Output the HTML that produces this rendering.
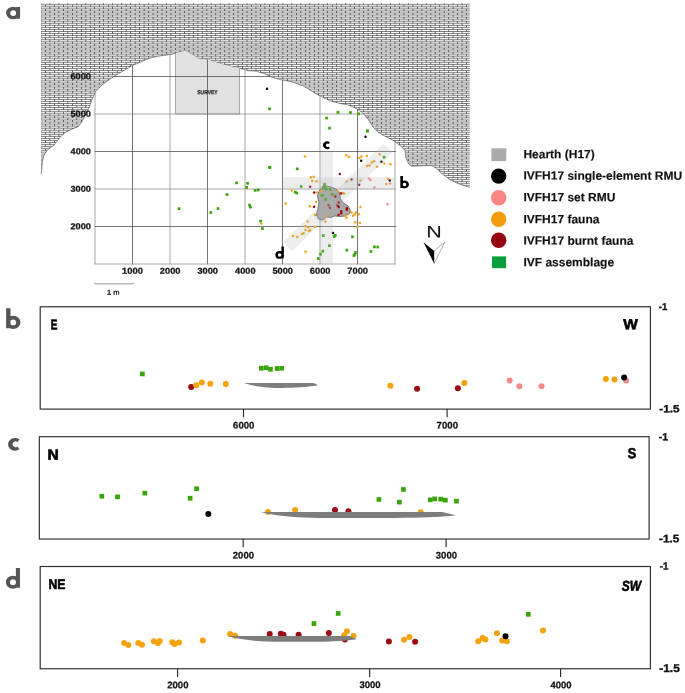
<!DOCTYPE html>
<html><head><meta charset="utf-8"><title>figure</title>
<style>
html,body{margin:0;padding:0;background:#fff;}
svg{display:block;will-change:transform;}
text{font-family:"Liberation Sans",sans-serif;}
.b{font-weight:bold;}
</style></head><body>
<svg width="685" height="693" viewBox="0 0 685 693">
<defs>
<clipPath id="cave"><path id="cavep" d="M41.1 174.3L42.5 161.2L44.1 155.2L47.2 150.1L54.2 145.0L60.3 137.0L65.4 132.5L72.4 128.9L78.5 126.5L82.5 120.8L88.6 108.7L91.6 100.6L95.7 91.5L102.7 84.4L110.8 78.4L120.9 72.3L133.0 65.3L140.0 62.3L148.8 58.5L157.5 56.3L170.7 54.5L179.4 52.3L185.5 50.6L190.4 53.6L199.1 58.7L207.9 59.6L216.6 62.4L227.6 65.5L238.5 67.7L247.3 70.5L256.0 71.2L264.8 73.8L271.4 77.1L280.1 79.6L291.7 81.8L303.4 86.1L318.0 94.9L329.6 100.7L340.0 103.5L348.2 104.9L356.3 108.6L362.5 112.7L368.6 119.9L373.7 128.0L377.8 132.1L385.0 136.2L394.2 140.9L401.3 146.4L405.0 150.5L405.8 157.7L408.5 163.8L411.5 166.2L421.7 165.8L431.0 165.4L436.0 167.9L442.2 174.0L450.4 180.1L460.6 184.6L469.8 187.3L469.8 300L41 300Z"/></clipPath>
</defs>
<rect width="685" height="693" fill="#fff"/>
<clipPath id="hc"><path d="M41 3.3H469.8V187.3L460.6 184.6L450.4 180.1L442.2 174.0L436.0 167.9L431.0 165.4L421.7 165.8L411.5 166.2L408.5 163.8L405.8 157.7L405.0 150.5L401.3 146.4L394.2 140.9L385.0 136.2L377.8 132.1L373.7 128.0L368.6 119.9L362.5 112.7L356.3 108.6L348.2 104.9L340.0 103.5L329.6 100.7L318.0 94.9L303.4 86.1L291.7 81.8L280.1 79.6L271.4 77.1L264.8 73.8L256.0 71.2L247.3 70.5L238.5 67.7L227.6 65.5L216.6 62.4L207.9 59.6L199.1 58.7L190.4 53.6L185.5 50.6L179.4 52.3L170.7 54.5L157.5 56.3L148.8 58.5L140.0 62.3L133.0 65.3L120.9 72.3L110.8 78.4L102.7 84.4L95.7 91.5L91.6 100.6L88.6 108.7L82.5 120.8L78.5 126.5L72.4 128.9L65.4 132.5L60.3 137.0L54.2 145.0L47.2 150.1L44.1 155.2L42.5 161.2L41.1 174.3Z"/></clipPath>
<g clip-path="url(#hc)" fill="none" stroke="#333">
<path d="M40 2.71H471M40 4.77H471M40 6.83H471M40 8.88H471M40 10.94H471M40 13.00H471M40 15.05H471M40 17.11H471M40 19.17H471M40 21.23H471M40 23.28H471M40 25.34H471M40 27.40H471M40 29.45H471M40 31.51H471M40 33.57H471M40 35.62H471M40 37.68H471M40 39.74H471M40 41.80H471M40 43.85H471M40 45.91H471M40 47.97H471M40 50.02H471M40 52.08H471M40 54.14H471M40 56.19H471M40 58.25H471M40 60.31H471M40 62.37H471M40 64.42H471M40 66.48H471M40 68.54H471M40 70.59H471M40 72.65H471M40 74.71H471M40 76.77H471M40 78.82H471M40 80.88H471M40 82.94H471M40 84.99H471M40 87.05H471M40 89.11H471M40 91.16H471M40 93.22H471M40 95.28H471M40 97.33H471M40 99.39H471M40 101.45H471M40 103.51H471M40 105.56H471M40 107.62H471M40 109.68H471M40 111.73H471M40 113.79H471M40 115.85H471M40 117.90H471M40 119.96H471M40 122.02H471M40 124.08H471M40 126.13H471M40 128.19H471M40 130.25H471M40 132.30H471M40 134.36H471M40 136.42H471M40 138.47H471M40 140.53H471M40 142.59H471M40 144.65H471M40 146.70H471M40 148.76H471M40 150.82H471M40 152.87H471M40 154.93H471M40 156.99H471M40 159.05H471M40 161.10H471M40 163.16H471M40 165.22H471M40 167.27H471M40 169.33H471M40 171.39H471M40 173.44H471M40 175.50H471M40 177.56H471M40 179.62H471M40 181.67H471M40 183.73H471M40 185.79H471M40 187.84H471" stroke-width="0.62"/>
<path d="M36.23 5.80H471M36.23 9.91H471M36.23 14.03H471M36.23 18.14H471M36.23 22.25H471M36.23 26.37H471M36.23 30.48H471M36.23 34.60H471M36.23 38.71H471M36.23 42.82H471M36.23 46.94H471M36.23 51.05H471M36.23 55.17H471M36.23 59.28H471M36.23 63.39H471M36.23 67.51H471M36.23 71.62H471M36.23 75.74H471M36.23 79.85H471M36.23 83.96H471M36.23 88.08H471M36.23 92.19H471M36.23 96.31H471M36.23 100.42H471M36.23 104.53H471M36.23 108.65H471M36.23 112.76H471M36.23 116.88H471M36.23 120.99H471M36.23 125.10H471M36.23 129.22H471M36.23 133.33H471M36.23 137.45H471M36.23 141.56H471M36.23 145.67H471M36.23 149.79H471M36.23 153.90H471M36.23 158.02H471M36.23 162.13H471M36.23 166.24H471M36.23 170.36H471M36.23 174.47H471M36.23 178.59H471M36.23 182.70H471M36.23 186.81H471" stroke-width="2.057" stroke-dasharray="0.70 8.26"/>
<path d="M40.59 3.74H471M40.59 7.86H471M40.59 11.97H471M40.59 16.08H471M40.59 20.20H471M40.59 24.31H471M40.59 28.43H471M40.59 32.54H471M40.59 36.65H471M40.59 40.77H471M40.59 44.88H471M40.59 49.00H471M40.59 53.11H471M40.59 57.22H471M40.59 61.34H471M40.59 65.45H471M40.59 69.57H471M40.59 73.68H471M40.59 77.79H471M40.59 81.91H471M40.59 86.02H471M40.59 90.14H471M40.59 94.25H471M40.59 98.36H471M40.59 102.48H471M40.59 106.59H471M40.59 110.71H471M40.59 114.82H471M40.59 118.93H471M40.59 123.05H471M40.59 127.16H471M40.59 131.28H471M40.59 135.39H471M40.59 139.50H471M40.59 143.62H471M40.59 147.73H471M40.59 151.85H471M40.59 155.96H471M40.59 160.07H471M40.59 164.19H471M40.59 168.30H471M40.59 172.42H471M40.59 176.53H471M40.59 180.64H471M40.59 184.76H471M40.59 188.87H471" stroke-width="2.057" stroke-dasharray="0.70 8.26"/>
</g>
<path d="M41.1 174.3L42.5 161.2L44.1 155.2L47.2 150.1L54.2 145.0L60.3 137.0L65.4 132.5L72.4 128.9L78.5 126.5L82.5 120.8L88.6 108.7L91.6 100.6L95.7 91.5L102.7 84.4L110.8 78.4L120.9 72.3L133.0 65.3L140.0 62.3L148.8 58.5L157.5 56.3L170.7 54.5L179.4 52.3L185.5 50.6L190.4 53.6L199.1 58.7L207.9 59.6L216.6 62.4L227.6 65.5L238.5 67.7L247.3 70.5L256.0 71.2L264.8 73.8L271.4 77.1L280.1 79.6L291.7 81.8L303.4 86.1L318.0 94.9L329.6 100.7L340.0 103.5L348.2 104.9L356.3 108.6L362.5 112.7L368.6 119.9L373.7 128.0L377.8 132.1L385.0 136.2L394.2 140.9L401.3 146.4L405.0 150.5L405.8 157.7L408.5 163.8L411.5 166.2L421.7 165.8L431.0 165.4L436.0 167.9L442.2 174.0L450.4 180.1L460.6 184.6L469.8 187.3" fill="none" stroke="#333" stroke-width="0.5"/>
<g clip-path="url(#cave)">
<rect x="175.5" y="40" width="64.1" height="74.0" fill="#e1e1e1" stroke="#999" stroke-width="0.8"/>
<line x1="95.00" x2="95.00" y1="40" y2="264.3" stroke="#828282" stroke-width="0.7"/>
<line x1="132.50" x2="132.50" y1="40" y2="264.3" stroke="#3c3c3c" stroke-width="0.7"/>
<line x1="170.00" x2="170.00" y1="40" y2="264.3" stroke="#828282" stroke-width="0.7"/>
<line x1="207.50" x2="207.50" y1="40" y2="264.3" stroke="#3c3c3c" stroke-width="0.7"/>
<line x1="245.00" x2="245.00" y1="40" y2="264.3" stroke="#828282" stroke-width="0.7"/>
<line x1="282.50" x2="282.50" y1="40" y2="264.3" stroke="#3c3c3c" stroke-width="0.7"/>
<line x1="320.00" x2="320.00" y1="40" y2="264.3" stroke="#828282" stroke-width="0.7"/>
<line x1="357.50" x2="357.50" y1="40" y2="264.3" stroke="#3c3c3c" stroke-width="0.7"/>
<line x1="395.00" x2="395.00" y1="40" y2="264.3" stroke="#828282" stroke-width="0.7"/>
<line x1="94.7" x2="395.8" y1="264.00" y2="264.00" stroke="#828282" stroke-width="0.7"/>
<line x1="94.7" x2="395.8" y1="226.50" y2="226.50" stroke="#3c3c3c" stroke-width="0.7"/>
<line x1="94.7" x2="395.8" y1="189.00" y2="189.00" stroke="#828282" stroke-width="0.7"/>
<line x1="94.7" x2="395.8" y1="151.50" y2="151.50" stroke="#3c3c3c" stroke-width="0.7"/>
<line x1="94.7" x2="395.8" y1="114.00" y2="114.00" stroke="#828282" stroke-width="0.7"/>
<line x1="94.7" x2="395.8" y1="76.50" y2="76.50" stroke="#3c3c3c" stroke-width="0.7"/>
</g>
<path d="M323.5 185.3L330.7 186.9L335.8 188.9L339.3 192.5L340.4 198.6L342.9 202.7L348.0 205.8L350.6 210.9L349.0 213.9L345.0 216.0L339.9 216.5L334.7 216.0L330.7 217.5L326.6 217.0L323.0 220.1L318.4 219.0L316.4 215.0L317.9 208.8L318.9 202.7L317.4 195.5L318.9 191.5L321.5 187.9Z" fill="#a8a8a8" stroke="#606060" stroke-width="0.8" stroke-linejoin="round"/>
<rect x="268.6" y="166.2" width="2.7" height="2.7" fill="#3aa50a"/><rect x="295.9" y="167.5" width="2.7" height="2.7" fill="#3aa50a"/><rect x="299.8" y="185.1" width="2.7" height="2.7" fill="#3aa50a"/><rect x="293.9" y="190.7" width="2.7" height="2.7" fill="#3aa50a"/><rect x="295.4" y="191.7" width="2.7" height="2.7" fill="#3aa50a"/><rect x="323.3" y="182.8" width="2.7" height="2.7" fill="#3aa50a"/><rect x="322.2" y="186.8" width="2.7" height="2.7" fill="#3aa50a"/><rect x="324.8" y="187.5" width="2.7" height="2.7" fill="#3aa50a"/><rect x="323.6" y="185.2" width="2.7" height="2.7" fill="#3aa50a"/><rect x="328.9" y="188.0" width="2.7" height="2.7" fill="#3aa50a"/><rect x="320.8" y="194.1" width="2.7" height="2.7" fill="#3aa50a"/><rect x="330.8" y="193.1" width="2.7" height="2.7" fill="#3aa50a"/><rect x="324.3" y="198.2" width="2.7" height="2.7" fill="#3aa50a"/><rect x="366.0" y="129.7" width="2.7" height="2.7" fill="#3aa50a"/><rect x="382.8" y="155.8" width="2.7" height="2.7" fill="#3aa50a"/><rect x="321.9" y="234.2" width="2.7" height="2.7" fill="#3aa50a"/><rect x="334.0" y="234.0" width="2.7" height="2.7" fill="#3aa50a"/><rect x="332.8" y="235.2" width="2.7" height="2.7" fill="#3aa50a"/><rect x="328.1" y="244.3" width="2.7" height="2.7" fill="#3aa50a"/><rect x="321.4" y="249.8" width="2.7" height="2.7" fill="#3aa50a"/><rect x="319.2" y="252.8" width="2.7" height="2.7" fill="#3aa50a"/><rect x="316.9" y="257.2" width="2.7" height="2.7" fill="#3aa50a"/><rect x="351.1" y="235.5" width="2.7" height="2.7" fill="#3aa50a"/><rect x="345.5" y="248.8" width="2.7" height="2.7" fill="#3aa50a"/><rect x="354.1" y="251.1" width="2.7" height="2.7" fill="#3aa50a"/><rect x="353.6" y="252.8" width="2.7" height="2.7" fill="#3aa50a"/><rect x="352.6" y="254.2" width="2.7" height="2.7" fill="#3aa50a"/><rect x="373.1" y="245.5" width="2.7" height="2.7" fill="#3aa50a"/><rect x="376.4" y="245.7" width="2.7" height="2.7" fill="#3aa50a"/><rect x="369.5" y="250.1" width="2.7" height="2.7" fill="#3aa50a"/><rect x="268.1" y="166.0" width="2.7" height="2.7" fill="#3aa50a"/><rect x="235.2" y="181.5" width="2.7" height="2.7" fill="#3aa50a"/><rect x="246.2" y="182.0" width="2.7" height="2.7" fill="#3aa50a"/><rect x="245.3" y="186.1" width="2.7" height="2.7" fill="#3aa50a"/><rect x="253.8" y="189.0" width="2.7" height="2.7" fill="#3aa50a"/><rect x="256.9" y="188.6" width="2.7" height="2.7" fill="#3aa50a"/><rect x="225.7" y="193.2" width="2.7" height="2.7" fill="#3aa50a"/><rect x="248.2" y="203.7" width="2.7" height="2.7" fill="#3aa50a"/><rect x="249.1" y="205.8" width="2.7" height="2.7" fill="#3aa50a"/><rect x="216.7" y="207.2" width="2.7" height="2.7" fill="#3aa50a"/><rect x="209.5" y="211.2" width="2.7" height="2.7" fill="#3aa50a"/><rect x="177.7" y="207.3" width="2.7" height="2.7" fill="#3aa50a"/><rect x="259.3" y="219.8" width="2.7" height="2.7" fill="#3aa50a"/><rect x="261.1" y="227.2" width="2.7" height="2.7" fill="#3aa50a"/><rect x="336.6" y="111.0" width="2.7" height="2.7" fill="#3aa50a"/><rect x="349.1" y="111.2" width="2.7" height="2.7" fill="#3aa50a"/><rect x="357.3" y="112.5" width="2.7" height="2.7" fill="#3aa50a"/><rect x="325.2" y="116.7" width="2.7" height="2.7" fill="#3aa50a"/><rect x="328.2" y="126.8" width="2.7" height="2.7" fill="#3aa50a"/><rect x="366.2" y="129.6" width="2.7" height="2.7" fill="#3aa50a"/><rect x="268.2" y="107.5" width="2.7" height="2.7" fill="#3aa50a"/>
<circle cx="304.9" cy="156.4" r="1.25" fill="#f5a20f"/><circle cx="310.9" cy="177.3" r="1.25" fill="#f5a20f"/><circle cx="313.7" cy="176.8" r="1.25" fill="#f5a20f"/><circle cx="312.1" cy="181.1" r="1.25" fill="#f5a20f"/><circle cx="316.5" cy="181.3" r="1.25" fill="#f5a20f"/><circle cx="291.8" cy="190.6" r="1.25" fill="#f5a20f"/><circle cx="316.5" cy="192.5" r="1.25" fill="#f5a20f"/><circle cx="320.8" cy="191.3" r="1.25" fill="#f5a20f"/><circle cx="338.0" cy="191.6" r="1.25" fill="#f5a20f"/><circle cx="346.3" cy="155.2" r="1.25" fill="#f5a20f"/><circle cx="349.0" cy="157.1" r="1.25" fill="#f5a20f"/><circle cx="359.4" cy="158.1" r="1.25" fill="#f5a20f"/><circle cx="361.5" cy="156.6" r="1.25" fill="#f5a20f"/><circle cx="366.9" cy="155.9" r="1.25" fill="#f5a20f"/><circle cx="379.6" cy="154.2" r="1.25" fill="#f5a20f"/><circle cx="384.2" cy="163.4" r="1.25" fill="#f5a20f"/><circle cx="390.4" cy="164.2" r="1.25" fill="#f5a20f"/><circle cx="374.0" cy="161.2" r="1.25" fill="#f5a20f"/><circle cx="371.7" cy="162.4" r="1.25" fill="#f5a20f"/><circle cx="369.6" cy="165.6" r="1.25" fill="#f5a20f"/><circle cx="367.1" cy="166.0" r="1.25" fill="#f5a20f"/><circle cx="376.8" cy="166.8" r="1.25" fill="#f5a20f"/><circle cx="346.8" cy="181.6" r="1.25" fill="#f5a20f"/><circle cx="360.4" cy="180.6" r="1.25" fill="#f5a20f"/><circle cx="387.8" cy="178.8" r="1.25" fill="#f5a20f"/><circle cx="386.3" cy="183.9" r="1.25" fill="#f5a20f"/><circle cx="344.1" cy="193.4" r="1.25" fill="#f5a20f"/><circle cx="285.6" cy="203.4" r="1.25" fill="#f5a20f"/><circle cx="316.0" cy="202.0" r="1.25" fill="#f5a20f"/><circle cx="309.9" cy="206.3" r="1.25" fill="#f5a20f"/><circle cx="315.0" cy="215.1" r="1.25" fill="#f5a20f"/><circle cx="326.2" cy="216.0" r="1.25" fill="#f5a20f"/><circle cx="325.4" cy="221.5" r="1.25" fill="#f5a20f"/><circle cx="307.5" cy="221.5" r="1.25" fill="#f5a20f"/><circle cx="305.6" cy="226.3" r="1.25" fill="#f5a20f"/><circle cx="308.1" cy="227.3" r="1.25" fill="#f5a20f"/><circle cx="315.0" cy="227.1" r="1.25" fill="#f5a20f"/><circle cx="305.5" cy="230.1" r="1.25" fill="#f5a20f"/><circle cx="310.2" cy="229.9" r="1.25" fill="#f5a20f"/><circle cx="309.0" cy="231.0" r="1.25" fill="#f5a20f"/><circle cx="303.7" cy="233.2" r="1.25" fill="#f5a20f"/><circle cx="302.0" cy="234.0" r="1.25" fill="#f5a20f"/><circle cx="293.0" cy="236.1" r="1.25" fill="#f5a20f"/><circle cx="297.3" cy="237.0" r="1.25" fill="#f5a20f"/><circle cx="305.6" cy="251.8" r="1.25" fill="#f5a20f"/><circle cx="360.4" cy="206.9" r="1.25" fill="#f5a20f"/><circle cx="351.5" cy="212.5" r="1.25" fill="#f5a20f"/><circle cx="355.8" cy="212.5" r="1.25" fill="#f5a20f"/><circle cx="354.6" cy="214.3" r="1.25" fill="#f5a20f"/><circle cx="353.0" cy="215.8" r="1.25" fill="#f5a20f"/><circle cx="358.9" cy="214.3" r="1.25" fill="#f5a20f"/><circle cx="345.6" cy="215.8" r="1.25" fill="#f5a20f"/><circle cx="346.4" cy="217.7" r="1.25" fill="#f5a20f"/><circle cx="355.1" cy="222.3" r="1.25" fill="#f5a20f"/><circle cx="359.9" cy="223.0" r="1.25" fill="#f5a20f"/><circle cx="357.4" cy="226.8" r="1.25" fill="#f5a20f"/><circle cx="261.4" cy="223.4" r="1.25" fill="#f5a20f"/><circle cx="342.8" cy="193.2" r="1.25" fill="#f5a20f"/>
<circle cx="310.1" cy="186.8" r="1.25" fill="#9c0a14"/><circle cx="314.1" cy="192.6" r="1.25" fill="#9c0a14"/><circle cx="339.8" cy="174.1" r="1.25" fill="#9c0a14"/><circle cx="335.4" cy="196.4" r="1.25" fill="#9c0a14"/><circle cx="351.5" cy="179.6" r="1.25" fill="#9c0a14"/><circle cx="359.2" cy="184.7" r="1.25" fill="#9c0a14"/><circle cx="340.8" cy="193.4" r="1.25" fill="#9c0a14"/><circle cx="314.1" cy="206.8" r="1.25" fill="#9c0a14"/><circle cx="328.5" cy="205.3" r="1.25" fill="#9c0a14"/><circle cx="330.0" cy="208.0" r="1.25" fill="#9c0a14"/><circle cx="337.4" cy="205.6" r="1.25" fill="#9c0a14"/><circle cx="338.7" cy="207.0" r="1.25" fill="#9c0a14"/><circle cx="338.5" cy="215.1" r="1.25" fill="#9c0a14"/><circle cx="346.9" cy="208.2" r="1.25" fill="#9c0a14"/><circle cx="346.9" cy="209.7" r="1.25" fill="#9c0a14"/><circle cx="341.2" cy="211.2" r="1.25" fill="#9c0a14"/><circle cx="341.2" cy="213.3" r="1.25" fill="#9c0a14"/><circle cx="338.7" cy="202.5" r="1.25" fill="#9c0a14"/><circle cx="341.0" cy="193.5" r="1.25" fill="#9c0a14"/>
<circle cx="368.8" cy="178.5" r="1.25" fill="#f48a8a"/><circle cx="370.5" cy="180.1" r="1.25" fill="#f48a8a"/><circle cx="374.4" cy="187.5" r="1.25" fill="#f48a8a"/><circle cx="390.1" cy="183.4" r="1.25" fill="#f48a8a"/><circle cx="387.5" cy="204.3" r="1.25" fill="#f48a8a"/>
<circle cx="365.5" cy="136.8" r="1.25" fill="#000"/><circle cx="361.2" cy="160.7" r="1.25" fill="#000"/><circle cx="381.4" cy="161.7" r="1.25" fill="#000"/><circle cx="389.8" cy="180.6" r="1.25" fill="#000"/><circle cx="333.0" cy="233.0" r="1.25" fill="#000"/><circle cx="267.0" cy="88.7" r="1.25" fill="#000"/>
<g fill="#b0b0b0" fill-opacity="0.225">
<rect x="320.6" y="152" width="12.3" height="111.5"/>
<rect x="283" y="177.3" width="111.6" height="11.5"/>
<path d="M283.2 241.9L383.4 143.8L392.6 152.2L291.9 251.6Z"/>
</g>
<text transform="translate(197.25 94.24) rotate(0.05) scale(0.841 1)" font-size="5.94" class="b" stroke="#222" stroke-width="0.20" stroke-linejoin="miter" paint-order="stroke" fill="#222">SURVEY</text>
<text transform="translate(122.09 273.69) rotate(0.05) scale(1.091 1)" font-size="8.62" class="b" stroke="#111" stroke-width="0.25" stroke-linejoin="miter" paint-order="stroke" fill="#111">1000</text>
<text transform="translate(159.85 273.69) rotate(0.05) scale(1.077 1)" font-size="8.62" class="b" stroke="#111" stroke-width="0.25" stroke-linejoin="miter" paint-order="stroke" fill="#111">2000</text>
<text transform="translate(197.47 273.67) rotate(0.05) scale(1.075 1)" font-size="8.59" class="b" stroke="#111" stroke-width="0.25" stroke-linejoin="miter" paint-order="stroke" fill="#111">3000</text>
<text transform="translate(235.04 273.69) rotate(0.05) scale(1.068 1)" font-size="8.62" class="b" stroke="#111" stroke-width="0.25" stroke-linejoin="miter" paint-order="stroke" fill="#111">4000</text>
<text transform="translate(272.40 273.69) rotate(0.05) scale(1.075 1)" font-size="8.62" class="b" stroke="#111" stroke-width="0.25" stroke-linejoin="miter" paint-order="stroke" fill="#111">5000</text>
<text transform="translate(309.83 273.69) rotate(0.05) scale(1.079 1)" font-size="8.62" class="b" stroke="#111" stroke-width="0.25" stroke-linejoin="miter" paint-order="stroke" fill="#111">6000</text>
<text transform="translate(347.28 273.69) rotate(0.05) scale(1.081 1)" font-size="8.62" class="b" stroke="#111" stroke-width="0.25" stroke-linejoin="miter" paint-order="stroke" fill="#111">7000</text>
<text transform="translate(70.40 229.34) rotate(0.05) scale(1.072 1)" font-size="8.62" class="b" stroke="#111" stroke-width="0.25" stroke-linejoin="miter" paint-order="stroke" fill="#111">2000</text>
<text transform="translate(70.52 191.82) rotate(0.05) scale(1.070 1)" font-size="8.59" class="b" stroke="#111" stroke-width="0.25" stroke-linejoin="miter" paint-order="stroke" fill="#111">3000</text>
<text transform="translate(70.59 154.34) rotate(0.05) scale(1.062 1)" font-size="8.62" class="b" stroke="#111" stroke-width="0.25" stroke-linejoin="miter" paint-order="stroke" fill="#111">4000</text>
<text transform="translate(70.45 116.84) rotate(0.05) scale(1.070 1)" font-size="8.62" class="b" stroke="#111" stroke-width="0.25" stroke-linejoin="miter" paint-order="stroke" fill="#111">5000</text>
<text transform="translate(70.38 79.34) rotate(0.05) scale(1.073 1)" font-size="8.62" class="b" stroke="#111" stroke-width="0.25" stroke-linejoin="miter" paint-order="stroke" fill="#111">6000</text>
<path d="M94.4 282.6Q94.4 283.8 95.6 283.8H132.4Q133.6 283.8 133.6 282.6" fill="none" stroke="#b9b9b9" stroke-width="1.4"/>
<text transform="translate(106.99 294.60) rotate(0.05) scale(1.138 1)" font-size="6.62" stroke="#222" stroke-width="0.30" stroke-linejoin="miter" paint-order="stroke" fill="#222">1 m</text>
<path d="M329.85 142.18A4.20 3.85 0 1 0 329.85 148.26L328.83 146.49A1.77 1.74 0 1 1 328.83 143.95Z" fill="#000" fill-rule="nonzero"/>
<path d="M400.32 188.07h2.64v-12.06h-2.64ZM400.32 184.47a4.32 3.96 0 1 0 8.64 0a4.32 3.96 0 1 0 -8.64 0ZM402.78 184.53a1.77 1.74 0 1 1 3.54 0a1.77 1.74 0 1 1 -3.54 0Z" fill="#000" fill-rule="nonzero"/>
<path d="M281.40 258.25h2.46v-11.82h-2.46ZM275.38 254.89a4.26 3.90 0 1 0 8.52 0a4.26 3.90 0 1 0 -8.52 0ZM277.90 254.92a1.77 1.74 0 1 1 3.54 0a1.77 1.74 0 1 1 -3.54 0Z" fill="#000" fill-rule="nonzero"/>
<path d="M16.35 18.80h3.75v-11.80h-3.75ZM6.10 13.05a7.00 6.30 0 1 0 14.00 0a7.00 6.30 0 1 0 -14.00 0ZM10.25 13.10a2.95 2.95 0 1 1 5.90 0a2.95 2.95 0 1 1 -5.90 0Z" fill="#555" fill-rule="nonzero"/>
<path d="M6.10 328.30h4.40v-20.10h-4.40ZM6.10 322.30a7.20 6.60 0 1 0 14.40 0a7.20 6.60 0 1 0 -14.40 0ZM10.20 322.40a2.95 2.90 0 1 1 5.90 0a2.95 2.90 0 1 1 -5.90 0Z" fill="#555" fill-rule="nonzero"/>
<path d="M19.37 439.24A7.00 6.42 0 1 0 19.37 449.36L17.67 446.42A2.95 2.90 0 1 1 17.67 442.18Z" fill="#555" fill-rule="nonzero"/>
<path d="M15.87 587.74h4.10v-19.70h-4.10ZM5.84 582.14a7.10 6.50 0 1 0 14.20 0a7.10 6.50 0 1 0 -14.20 0ZM10.04 582.19a2.95 2.90 0 1 1 5.90 0a2.95 2.90 0 1 1 -5.90 0Z" fill="#555" fill-rule="nonzero"/>
<text transform="translate(426.32 237.50) rotate(0.05) scale(1.287 1)" font-size="16.73" fill="#111">N</text>
<path d="M423.5 242.3L434.1 250.9L434.1 263.5Z" fill="#000"/>
<path d="M444.7 242.3L434.1 250.9L434.1 263.5Z" fill="#fff" stroke="#333" stroke-width="0.4"/>
<rect x="491.4" y="148.3" width="14.9" height="12.8" fill="#aaa"/>
<circle cx="498.7" cy="176.1" r="7.7" fill="#000"/>
<circle cx="498.7" cy="197.7" r="7.7" fill="#fb8484"/>
<circle cx="498.7" cy="219.2" r="7.7" fill="#f39c0b"/>
<circle cx="498.7" cy="240.2" r="7.7" fill="#96000f"/>
<rect x="492" y="256.4" width="14.1" height="11.8" fill="#0b9e3c"/>
<text transform="translate(523.4 158.2) rotate(0.05)" font-size="12" class="b" fill="#111" stroke="#111" stroke-width="0.15">Hearth (H17)</text>
<text transform="translate(523.4 179.6) rotate(0.05)" font-size="12" class="b" fill="#111" stroke="#111" stroke-width="0.15">IVFH17 single-element RMU</text>
<text transform="translate(523.4 201.3) rotate(0.05)" font-size="12" class="b" fill="#111" stroke="#111" stroke-width="0.15">IVFH17 set RMU</text>
<text transform="translate(523.4 223.3) rotate(0.05)" font-size="12" class="b" fill="#111" stroke="#111" stroke-width="0.15">IVFH17 fauna</text>
<text transform="translate(523.4 244.6) rotate(0.05)" font-size="12" class="b" fill="#111" stroke="#111" stroke-width="0.15">IVFH17 burnt fauna</text>
<text transform="translate(523.4 266.3) rotate(0.05)" font-size="12" class="b" fill="#111" stroke="#111" stroke-width="0.15">IVF assemblage</text>
<rect x="40.20" y="306.75" width="610.20" height="102.35" fill="none" stroke="#333" stroke-width="1.2"/>
<line x1="243.50" x2="243.50" y1="409.10" y2="417.30" stroke="#222" stroke-width="1.1"/><text transform="translate(233.07 428.48) rotate(0.05) scale(1.004 1)" font-size="9.54" class="b" stroke="#111" stroke-width="0.25" stroke-linejoin="miter" paint-order="stroke" fill="#111">6000</text>
<line x1="447.10" x2="447.10" y1="409.10" y2="417.30" stroke="#222" stroke-width="1.1"/><text transform="translate(436.62 428.48) rotate(0.05) scale(1.007 1)" font-size="9.54" class="b" stroke="#111" stroke-width="0.25" stroke-linejoin="miter" paint-order="stroke" fill="#111">7000</text>
<text transform="translate(658.79 309.93) rotate(0.05) scale(0.961 1)" font-size="9.96" class="b" stroke="#111" stroke-width="0.35" stroke-linejoin="miter" paint-order="stroke" fill="#111">-1</text>
<text transform="translate(659.30 412.32) rotate(0.05) scale(1.123 1)" font-size="10.47" class="b" stroke="#111" stroke-width="0.35" stroke-linejoin="miter" paint-order="stroke" fill="#111">-1.5</text>
<text transform="translate(50.86 329.47) rotate(0.05) scale(0.702 1)" font-size="14.30" class="b" stroke="#000" stroke-width="0.60" stroke-linejoin="miter" paint-order="stroke" fill="#000">E</text>
<text transform="translate(623.26 329.30) rotate(0.05) scale(1.075 1)" font-size="14.40" class="b" stroke="#000" stroke-width="0.60" stroke-linejoin="miter" paint-order="stroke" fill="#000">W</text>
<rect x="140.0" y="371.6" width="4.7" height="4.7" fill="#3aa50a"/><rect x="259.0" y="365.9" width="4.7" height="4.7" fill="#3aa50a"/><rect x="263.8" y="365.4" width="4.7" height="4.7" fill="#3aa50a"/><rect x="268.1" y="366.9" width="4.7" height="4.7" fill="#3aa50a"/><rect x="274.8" y="366.2" width="4.7" height="4.7" fill="#3aa50a"/><rect x="279.4" y="365.9" width="4.7" height="4.7" fill="#3aa50a"/>
<circle cx="191.2" cy="387.0" r="3" fill="#9c0a14"/><circle cx="196.2" cy="385.3" r="3" fill="#f5a20f"/><circle cx="201.9" cy="382.6" r="3" fill="#f5a20f"/><circle cx="210.3" cy="383.7" r="3" fill="#f5a20f"/><circle cx="225.8" cy="384.0" r="3" fill="#f5a20f"/><circle cx="390.4" cy="385.7" r="3" fill="#f5a20f"/><circle cx="417.1" cy="388.7" r="3" fill="#9c0a14"/><circle cx="457.9" cy="388.2" r="3" fill="#9c0a14"/><circle cx="464.4" cy="383.1" r="3" fill="#f5a20f"/><circle cx="509.7" cy="380.6" r="3" fill="#f48a8a"/><circle cx="519.3" cy="386.2" r="3" fill="#f48a8a"/><circle cx="541.5" cy="386.2" r="3" fill="#f48a8a"/><circle cx="605.9" cy="379.1" r="3" fill="#f5a20f"/><circle cx="614.5" cy="379.6" r="3" fill="#f5a20f"/><circle cx="626.1" cy="380.6" r="3" fill="#f48a8a"/><circle cx="624.1" cy="377.6" r="3" fill="#000"/>
<path d="M244 383L313.3 383L318.4 385.3C305 387.2 295 387.9 282 387.9C268 387.9 255 386.8 244 383Z" fill="#7d7d7d"/>
<rect x="39.35" y="436.70" width="609.75" height="102.35" fill="none" stroke="#333" stroke-width="1.2"/>
<line x1="243.20" x2="243.20" y1="539.05" y2="547.25" stroke="#222" stroke-width="1.1"/><text transform="translate(232.79 558.43) rotate(0.05) scale(1.003 1)" font-size="9.54" class="b" stroke="#111" stroke-width="0.25" stroke-linejoin="miter" paint-order="stroke" fill="#111">2000</text>
<line x1="446.10" x2="446.10" y1="539.05" y2="547.25" stroke="#222" stroke-width="1.1"/><text transform="translate(435.81 558.41) rotate(0.05) scale(1.001 1)" font-size="9.51" class="b" stroke="#111" stroke-width="0.25" stroke-linejoin="miter" paint-order="stroke" fill="#111">3000</text>
<text transform="translate(658.76 440.18) rotate(0.05) scale(1.010 1)" font-size="10.33" class="b" stroke="#111" stroke-width="0.35" stroke-linejoin="miter" paint-order="stroke" fill="#111">-1</text>
<text transform="translate(659.10 542.32) rotate(0.05) scale(1.086 1)" font-size="10.82" class="b" stroke="#111" stroke-width="0.35" stroke-linejoin="miter" paint-order="stroke" fill="#111">-1.5</text>
<text transform="translate(47.54 459.80) rotate(0.05) scale(1.045 1)" font-size="14.98" class="b" stroke="#000" stroke-width="0.60" stroke-linejoin="miter" paint-order="stroke" fill="#000">N</text>
<text transform="translate(627.87 458.30) rotate(0.05) scale(0.875 1)" font-size="14.63" class="b" stroke="#000" stroke-width="0.60" stroke-linejoin="miter" paint-order="stroke" fill="#000">S</text>
<rect x="99.5" y="493.9" width="4.7" height="4.7" fill="#3aa50a"/><rect x="115.2" y="494.5" width="4.7" height="4.7" fill="#3aa50a"/><rect x="142.5" y="490.8" width="4.7" height="4.7" fill="#3aa50a"/><rect x="187.8" y="495.9" width="4.7" height="4.7" fill="#3aa50a"/><rect x="194.2" y="486.4" width="4.7" height="4.7" fill="#3aa50a"/><rect x="376.6" y="497.1" width="4.7" height="4.7" fill="#3aa50a"/><rect x="397.0" y="499.8" width="4.7" height="4.7" fill="#3aa50a"/><rect x="401.1" y="487.1" width="4.7" height="4.7" fill="#3aa50a"/><rect x="427.9" y="497.5" width="4.7" height="4.7" fill="#3aa50a"/><rect x="432.3" y="496.5" width="4.7" height="4.7" fill="#3aa50a"/><rect x="438.3" y="496.8" width="4.7" height="4.7" fill="#3aa50a"/><rect x="443.0" y="497.8" width="4.7" height="4.7" fill="#3aa50a"/><rect x="454.1" y="498.8" width="4.7" height="4.7" fill="#3aa50a"/>
<circle cx="208.3" cy="514.0" r="3" fill="#000"/><circle cx="268.1" cy="512.0" r="3" fill="#f5a20f"/><circle cx="295.1" cy="510.0" r="3" fill="#f5a20f"/><circle cx="335.0" cy="510.0" r="3" fill="#9c0a14"/><circle cx="348.4" cy="511.3" r="3" fill="#9c0a14"/><circle cx="420.6" cy="512.3" r="3" fill="#f5a20f"/>
<path d="M260.5 512.1L442 512.1L455.8 515.3C440 517.2 420 517.9 395 517.9L320 517.9C295 517.9 275 516 260.5 512.1Z" fill="#7d7d7d"/>
<rect x="40.20" y="566.50" width="610.20" height="102.25" fill="none" stroke="#333" stroke-width="1.2"/>
<line x1="177.60" x2="177.60" y1="668.75" y2="676.95" stroke="#222" stroke-width="1.1"/><text transform="translate(167.19 688.13) rotate(0.05) scale(1.003 1)" font-size="9.54" class="b" stroke="#111" stroke-width="0.25" stroke-linejoin="miter" paint-order="stroke" fill="#111">2000</text>
<line x1="369.70" x2="369.70" y1="668.75" y2="676.95" stroke="#222" stroke-width="1.1"/><text transform="translate(359.41 688.11) rotate(0.05) scale(1.001 1)" font-size="9.51" class="b" stroke="#111" stroke-width="0.25" stroke-linejoin="miter" paint-order="stroke" fill="#111">3000</text>
<line x1="560.60" x2="560.60" y1="668.75" y2="676.95" stroke="#222" stroke-width="1.1"/><text transform="translate(550.38 688.13) rotate(0.05) scale(0.994 1)" font-size="9.54" class="b" stroke="#111" stroke-width="0.25" stroke-linejoin="miter" paint-order="stroke" fill="#111">4000</text>
<text transform="translate(659.68 569.43) rotate(0.05) scale(0.944 1)" font-size="10.40" class="b" stroke="#111" stroke-width="0.35" stroke-linejoin="miter" paint-order="stroke" fill="#111">-1</text>
<text transform="translate(659.30 672.11) rotate(0.05) scale(1.038 1)" font-size="11.47" class="b" stroke="#111" stroke-width="0.35" stroke-linejoin="miter" paint-order="stroke" fill="#111">-1.5</text>
<text transform="translate(48.38 589.00) rotate(0.05) scale(0.874 1)" font-size="13.96" class="b" stroke="#000" stroke-width="0.60" stroke-linejoin="miter" paint-order="stroke" fill="#000">NE</text>
<text transform="translate(621.75 590.71) rotate(0.05) scale(0.835 1)" font-size="14.35" class="b" font-style="italic" stroke="#000" stroke-width="0.60" stroke-linejoin="miter" paint-order="stroke" fill="#000">SW</text>
<rect x="311.6" y="621.2" width="4.7" height="4.7" fill="#3aa50a"/><rect x="335.8" y="611.1" width="4.7" height="4.7" fill="#3aa50a"/><rect x="525.9" y="612.0" width="4.7" height="4.7" fill="#3aa50a"/>
<circle cx="124.2" cy="643.0" r="3" fill="#f5a20f"/><circle cx="128.3" cy="645.0" r="3" fill="#f5a20f"/><circle cx="138.3" cy="643.0" r="3" fill="#f5a20f"/><circle cx="142.0" cy="644.7" r="3" fill="#f5a20f"/><circle cx="153.8" cy="641.3" r="3" fill="#f5a20f"/><circle cx="157.8" cy="643.0" r="3" fill="#f5a20f"/><circle cx="159.8" cy="641.0" r="3" fill="#f5a20f"/><circle cx="172.3" cy="642.3" r="3" fill="#f5a20f"/><circle cx="174.6" cy="644.0" r="3" fill="#f5a20f"/><circle cx="179.0" cy="642.6" r="3" fill="#f5a20f"/><circle cx="202.8" cy="640.6" r="3" fill="#f5a20f"/><circle cx="230.1" cy="634.0" r="3" fill="#f5a20f"/><circle cx="235.1" cy="635.7" r="3" fill="#f5a20f"/><circle cx="269.7" cy="634.0" r="3" fill="#9c0a14"/><circle cx="280.8" cy="633.7" r="3" fill="#9c0a14"/><circle cx="283.5" cy="634.7" r="3" fill="#9c0a14"/><circle cx="298.6" cy="634.7" r="3" fill="#9c0a14"/><circle cx="328.8" cy="633.0" r="3" fill="#9c0a14"/><circle cx="346.9" cy="631.3" r="3" fill="#f5a20f"/><circle cx="344.2" cy="635.3" r="3" fill="#f5a20f"/><circle cx="344.9" cy="639.4" r="3" fill="#9c0a14"/><circle cx="353.6" cy="636.0" r="3" fill="#f5a20f"/><circle cx="388.9" cy="641.4" r="3" fill="#9c0a14"/><circle cx="404.0" cy="639.7" r="3" fill="#f5a20f"/><circle cx="409.4" cy="637.0" r="3" fill="#f5a20f"/><circle cx="415.1" cy="641.7" r="3" fill="#9c0a14"/><circle cx="478.3" cy="641.2" r="3" fill="#f5a20f"/><circle cx="482.6" cy="638.0" r="3" fill="#f5a20f"/><circle cx="485.4" cy="639.4" r="3" fill="#f5a20f"/><circle cx="496.9" cy="633.3" r="3" fill="#f5a20f"/><circle cx="502.2" cy="640.5" r="3" fill="#f5a20f"/><circle cx="506.9" cy="641.2" r="3" fill="#f5a20f"/><circle cx="543.0" cy="630.5" r="3" fill="#f5a20f"/><circle cx="505.5" cy="636.2" r="3" fill="#000"/>
<path d="M227.1 636.1L349.7 636.1L356.9 639.3C345 640.8 335 641.8 318 641.8L280 641.8C260 641.8 243 640.3 227.1 636.1Z" fill="#7d7d7d"/>
</svg></body></html>
